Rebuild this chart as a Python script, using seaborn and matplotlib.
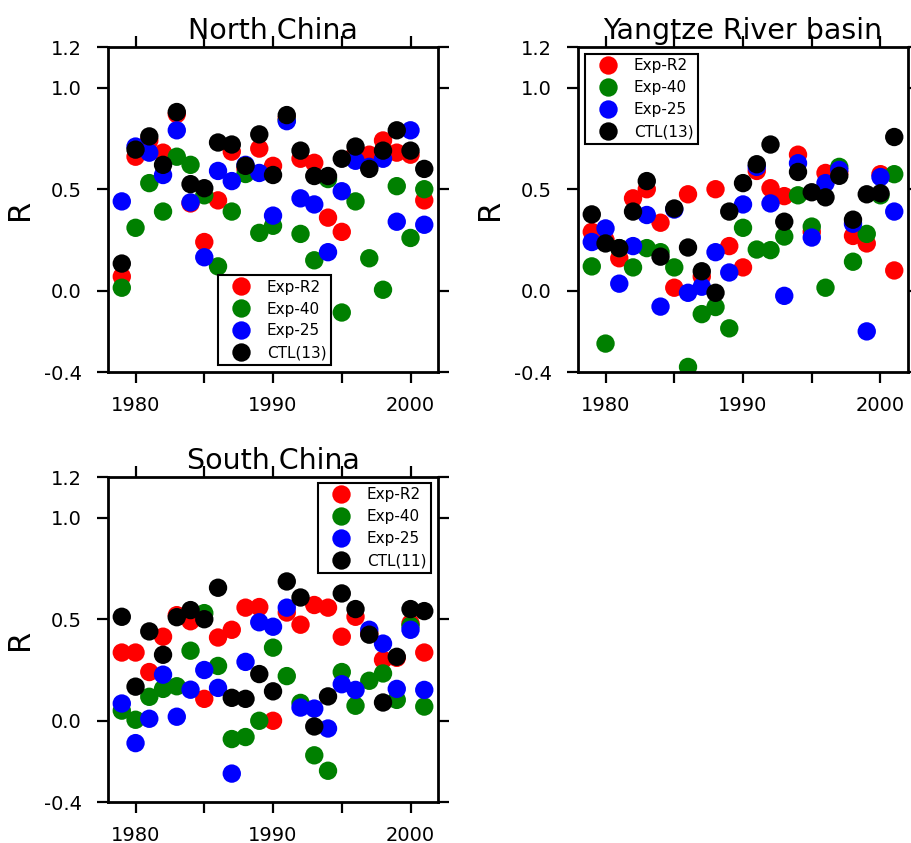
"""Correlation R of three experiments and CTL over three regions of China, 1979-2001."""

import pandas as pd
import matplotlib
matplotlib.use("Agg")
import matplotlib.pyplot as plt
import seaborn as sns

years = list(range(1979, 2002))

# --- North China ---
nc_r2 = [0.07, 0.66, 0.74, 0.68, 0.87, 0.43, 0.24, 0.445, 0.685, 0.60, 0.70, 0.615,
         0.85, 0.65, 0.63, 0.36, 0.29, 0.68, 0.67, 0.74, 0.68, 0.67, 0.445]
nc_40 = [0.015, 0.31, 0.53, 0.39, 0.66, 0.62, 0.47, 0.12, 0.39, 0.575, 0.285, 0.32,
         0.84, 0.28, 0.15, 0.55, -0.107, 0.44, 0.16, 0.005, 0.515, 0.26, 0.50]
nc_25 = [0.44, 0.71, 0.68, 0.57, 0.79, 0.435, 0.165, 0.59, 0.54, 0.62, 0.58, 0.37,
         0.835, 0.455, 0.425, 0.19, 0.49, 0.64, 0.61, 0.65, 0.34, 0.79, 0.325]
nc_ctl = [0.134, 0.695, 0.76, 0.62, 0.88, 0.525, 0.505, 0.73, 0.72, 0.615, 0.77, 0.57,
          0.865, 0.69, 0.565, 0.565, 0.65, 0.71, 0.60, 0.69, 0.79, 0.69, 0.60]

# --- Yangtze River basin ---
yr_r2 = [0.29, 0.25, 0.16, 0.455, 0.50, 0.335, 0.015, 0.475, 0.07, 0.50, 0.22, 0.115,
         0.59, 0.505, 0.466, 0.67, 0.29, 0.58, 0.58, 0.27, 0.233, 0.574, 0.10]
yr_40 = [0.12, -0.26, 0.21, 0.115, 0.21, 0.19, 0.115, -0.375, -0.115, -0.08, -0.185, 0.31,
         0.203, 0.20, 0.267, 0.47, 0.316, 0.015, 0.61, 0.143, 0.28, 0.47, 0.574]
yr_25 = [0.24, 0.307, 0.035, 0.22, 0.373, -0.078, 0.40, -0.01, 0.02, 0.19, 0.09, 0.425,
         0.61, 0.43, -0.025, 0.628, 0.262, 0.53, 0.595, 0.33, -0.20, 0.56, 0.39]
yr_ctl = [0.376, 0.233, 0.21, 0.39, 0.54, 0.168, 0.405, 0.213, 0.096, -0.01, 0.39, 0.53,
          0.623, 0.72, 0.34, 0.585, 0.485, 0.46, 0.566, 0.35, 0.475, 0.48, 0.757]

# --- South China ---
sc_r2 = [0.336, 0.336, 0.24, 0.414, 0.52, 0.49, 0.108, 0.41, 0.448, 0.557, 0.56, 0.0,
         0.533, 0.473, 0.57, 0.557, 0.414, 0.512, 0.43, 0.30, 0.31, 0.48, 0.336]
sc_40 = [0.05, 0.005, 0.118, 0.157, 0.17, 0.345, 0.53, 0.27, -0.09, -0.08, 0.0, 0.36,
         0.22, 0.088, -0.17, -0.246, 0.24, 0.074, 0.197, 0.233, 0.103, 0.468, 0.07]
sc_25 = [0.085, -0.11, 0.01, 0.227, 0.02, 0.153, 0.25, 0.162, -0.26, 0.29, 0.485, 0.463,
         0.557, 0.065, 0.06, -0.038, 0.18, 0.152, 0.448, 0.38, 0.157, 0.448, 0.152]
sc_ctl = [0.512, 0.168, 0.44, 0.325, 0.51, 0.545, 0.50, 0.655, 0.113, 0.108, 0.23, 0.145,
          0.686, 0.607, -0.028, 0.12, 0.627, 0.55, 0.424, 0.09, 0.315, 0.55, 0.54]

x_ticks = [1980, 1985, 1990, 1995, 2000]
x_labels = ["1980", "", "1990", "", "2000"]
y_ticks = [-0.4, 0.0, 0.5, 1.0, 1.2]
y_labels = ["-0.4", "0.0", "0.5", "1.0", "1.2"]
colors = ["red", "green", "blue", "black"]

sns.set_style("ticks", {"axes.edgecolor": "black", "xtick.color": "black",
                        "ytick.color": "black", "text.color": "black",
                        "axes.labelcolor": "black"})
plt.rcParams["font.family"] = ["DejaVu Sans"]

fig = plt.figure(figsize=(9.11, 8.43), dpi=100)

panels = [
    ("North China", [nc_r2, nc_40, nc_25, nc_ctl], "CTL(13)",
     [0.1186, 0.5587, 0.3622, 0.3855], dict(loc="lower left", bbox_to_anchor=(0.333, 0.022))),
    ("Yangtze River basin", [yr_r2, yr_40, yr_25, yr_ctl], "CTL(13)",
     [0.6345, 0.5587, 0.3622, 0.3855], dict(loc="upper left", bbox_to_anchor=(0.021, 0.979))),
    ("South China", [sc_r2, sc_40, sc_25, sc_ctl], "CTL(11)",
     [0.1186, 0.0486, 0.3622, 0.3855], dict(loc="upper right", bbox_to_anchor=(0.979, 0.982))),
]

for title, series, ctl_name, rect, leg_pos in panels:
    names = ["Exp-R2", "Exp-40", "Exp-25", ctl_name]
    frames = [pd.DataFrame({"year": years, "R": vals, "run": nm})
              for nm, vals in zip(names, series)]
    df = pd.concat(frames, ignore_index=True)

    ax = fig.add_axes(rect)
    sns.scatterplot(data=df, x="year", y="R", hue="run", hue_order=names,
                    palette=dict(zip(names, colors)), s=175, linewidth=0,
                    alpha=1, ax=ax)

    ax.set_xlim(1978, 2002)
    ax.set_ylim(-0.4, 1.2)
    ax.set_xticks(x_ticks)
    ax.set_xticklabels(x_labels)
    ax.set_yticks(y_ticks)
    ax.set_yticklabels(y_labels)
    ax.set_xlabel("")
    ax.set_ylabel("R", fontsize=22, labelpad=7)
    ax.set_title(title, fontsize=20.5, pad=6)

    ax.tick_params(direction="out", top=True, right=True, labeltop=False,
                   labelright=False, length=8, width=1.6, labelsize=14)
    ax.tick_params(axis="x", pad=9)
    ax.tick_params(axis="y", pad=11)
    for sp in ax.spines.values():
        sp.set_linewidth(2)
        sp.set_color("black")

    handles, labels = ax.get_legend_handles_labels()
    leg = ax.legend(handles, labels, fontsize=11, frameon=True, fancybox=False,
                    framealpha=1, edgecolor="black", borderpad=0.3,
                    labelspacing=0.45, handlelength=2.4, handletextpad=0.5,
                    borderaxespad=0, **leg_pos)
    leg.get_frame().set_linewidth(1.5)

fig.savefig("out.png", dpi=100)
